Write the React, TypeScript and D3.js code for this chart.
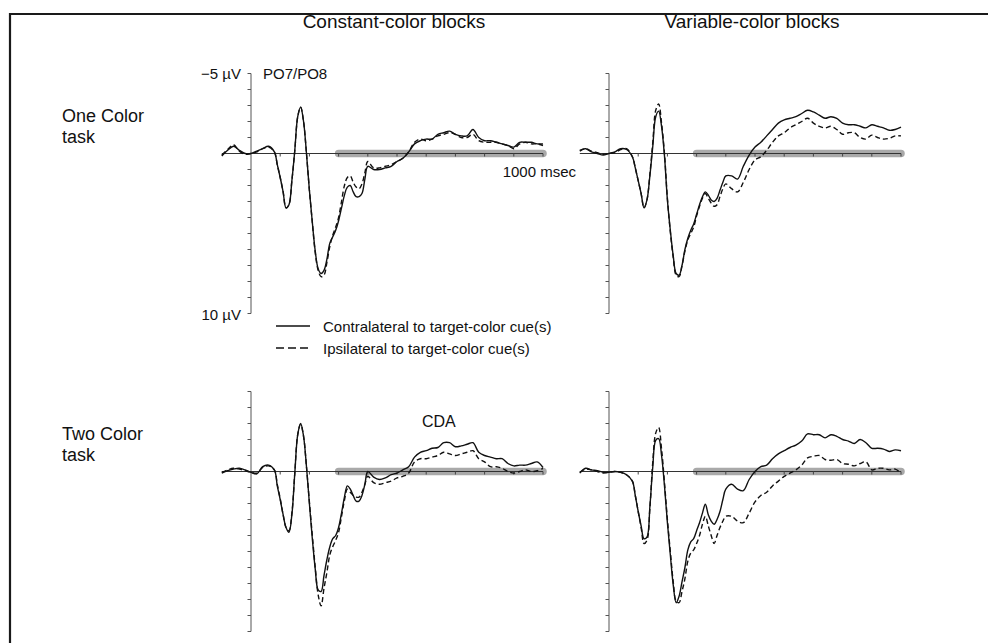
import React from 'react';
import * as d3 from 'd3';

// time points (ms)
const times = [-100,-80,-60,-40,-20,0,20,40,60,80,
  90,100,110,120,130,140,150,160,170,180,190,200,210,220,230,240,250,260,270,280,290,300,310,320,330,340,350,360,370,380,390,400,
  420,440,460,480,500,520,540,560,580,600,620,640,660,680,700,720,740,760,780,800,820,840,860,880,900,920,940,960,980,1000];

// µV (negative up)
const constOneContra = [0.15,-0.2,-0.45,-0.2,0.0,0.0,-0.15,-0.3,-0.45,-0.1,
  0.7,1.5,2.4,3.4,3.2,1.7,-0.2,-2.3,-2.9,-2.0,0.0,2.3,4.3,6.1,7.2,7.5,7.3,6.6,5.6,5.2,4.8,4.2,3.4,2.6,2.1,2.0,2.4,2.7,2.7,2.5,1.6,0.8,
  1.0,1.0,0.9,0.8,0.5,0.3,-0.1,-0.6,-0.8,-0.9,-0.9,-1.2,-1.3,-1.4,-1.2,-1.1,-1.1,-1.5,-1.0,-0.8,-0.8,-0.7,-0.6,-0.5,-0.4,-0.7,-0.7,-0.7,-0.6,-0.6];
const constOneIpsi = [0.1,-0.25,-0.55,-0.15,0.05,0.0,-0.1,-0.3,-0.4,-0.1,
  0.7,1.5,2.4,3.4,3.2,1.7,-0.2,-2.3,-2.9,-2.0,0.0,2.3,4.3,6.2,7.3,7.7,7.6,6.8,5.8,5.1,4.6,4.0,3.0,2.0,1.5,1.4,1.8,2.1,2.2,1.9,1.2,0.5,
  0.9,0.9,0.8,0.7,0.5,0.3,-0.1,-0.7,-0.9,-0.8,-0.9,-1.1,-1.2,-1.3,-1.2,-1.0,-1.0,-1.2,-0.8,-0.7,-0.7,-0.7,-0.6,-0.5,-0.3,-0.6,-0.7,-0.6,-0.6,-0.5];
const varOneContra = [-0.2,-0.3,-0.1,0.0,0.1,0.0,-0.1,-0.3,-0.25,0.2,
  0.9,1.7,2.5,3.4,2.9,1.4,-0.45,-2.3,-2.65,-1.7,0.15,2.9,4.8,6.4,7.5,7.6,7.0,6.0,5.3,4.8,4.4,3.8,3.2,2.7,2.4,2.6,2.9,3.0,2.8,2.3,1.8,1.4,
  1.4,1.6,0.8,0.1,-0.4,-0.7,-1.1,-1.5,-1.9,-2.1,-2.2,-2.3,-2.5,-2.7,-2.6,-2.4,-2.2,-2.3,-2.2,-1.9,-1.8,-1.8,-1.7,-1.6,-1.8,-1.7,-1.6,-1.45,-1.5,-1.65];
const varOneIpsi = [-0.15,-0.3,-0.15,-0.05,0.05,0.0,-0.05,-0.25,-0.3,0.2,
  0.9,1.7,2.5,3.4,2.9,1.3,-0.7,-2.7,-3.1,-1.9,0.0,2.8,4.9,6.5,7.6,7.7,7.0,6.1,5.4,5.0,4.6,3.9,3.3,2.8,2.5,2.8,3.1,3.3,3.2,2.7,2.2,1.9,
  2.2,2.4,1.8,1.0,0.4,0.2,-0.2,-0.7,-1.1,-1.3,-1.6,-1.8,-2.0,-2.2,-1.9,-1.7,-1.6,-1.7,-1.5,-1.2,-1.3,-1.3,-1.0,-0.9,-1.15,-1.0,-0.9,-0.95,-1.1,-1.1];
const constTwoContra = [0.1,-0.05,-0.15,-0.2,-0.1,0.05,0.15,-0.3,-0.4,-0.1,
  0.9,1.75,2.7,3.5,3.8,2.7,0.1,-2.3,-3.0,-2.2,-0.3,2.0,4.2,6.1,7.4,7.5,6.5,5.5,4.7,4.2,4.0,3.5,2.6,1.6,0.9,1.1,1.5,1.85,1.85,1.5,0.8,0.0,
  0.35,0.5,0.4,0.2,0.1,-0.1,-0.3,-0.9,-1.2,-1.3,-1.45,-1.5,-1.8,-1.8,-1.55,-1.6,-1.7,-1.8,-1.2,-1.0,-0.9,-0.8,-0.8,-0.5,-0.35,-0.4,-0.4,-0.5,-0.6,-0.25];
const constTwoIpsi = [0.05,-0.1,-0.2,-0.15,-0.05,0.05,0.1,-0.25,-0.35,-0.1,
  0.8,1.7,2.7,3.5,3.7,2.6,0.1,-2.3,-2.95,-2.2,-0.3,1.9,4.0,6.0,7.7,8.4,7.3,6.3,5.2,4.7,4.3,3.8,2.8,1.8,1.1,1.3,1.5,1.6,1.6,1.3,0.8,0.3,
  0.7,0.8,0.7,0.6,0.4,0.3,0.1,-0.6,-0.8,-0.8,-0.9,-1.0,-1.2,-1.1,-1.0,-1.1,-1.2,-1.3,-0.8,-0.6,-0.3,-0.3,-0.2,0.0,0.1,0.0,-0.1,0.0,-0.05,-0.2];
const varTwoContra = [0.1,-0.2,-0.1,-0.05,0.05,0.05,0.0,0.05,0.2,0.6,
  1.5,2.5,3.4,4.2,4.1,2.2,-0.3,-1.95,-2.05,-1.0,0.9,3.2,5.2,7.1,8.2,7.8,6.9,6.0,4.9,4.4,4.2,3.7,3.2,2.6,2.05,2.7,3.1,3.3,3.0,2.5,1.75,1.1,
  0.8,1.1,1.2,0.5,0.0,-0.3,-0.4,-0.8,-1.1,-1.3,-1.5,-1.65,-1.9,-2.35,-2.3,-2.3,-2.1,-2.3,-2.2,-2.0,-1.9,-1.75,-2.0,-1.8,-1.45,-1.45,-1.4,-1.25,-1.35,-1.3];
const varTwoIpsi = [0.05,-0.15,-0.1,0.0,0.1,0.05,0.0,0.05,0.2,0.6,
  1.5,2.5,3.5,4.5,4.3,2.3,-0.6,-2.4,-2.75,-1.4,0.7,3.0,5.0,6.9,8.1,8.2,7.5,6.7,5.6,5.1,4.9,4.5,4.0,3.3,2.8,3.4,4.0,4.5,4.0,3.5,3.1,2.8,
  2.8,3.1,3.2,2.6,1.9,1.5,1.3,0.9,0.6,0.3,0.1,-0.1,-0.4,-0.85,-0.95,-1.0,-0.75,-0.7,-0.75,-0.5,-0.45,-0.35,-0.5,-0.6,-0.1,-0.2,-0.2,-0.1,-0.15,0.1];

const columnTitles = ['Constant-color blocks', 'Variable-color blocks'];
const rowLabels = [['One Color', 'task'], ['Two Color', 'task']];
const legendLabels = ['Contralateral to target-color cue(s)', 'Ipsilateral to target-color cue(s)'];
const yDomain = [-5, 10];
const xTicks = [100, 200, 300, 400, 500, 600, 700, 800, 900, 1000];
const cdaWindow = [300, 1000];

const FONT = '"Liberation Sans", Arial, Helvetica, sans-serif';
const PANEL_X = [251, 609];
const PANEL_TOP = [73.5, 391.5];
const PANEL_W = 292; // px per 1000 ms
const PANEL_H = 240;

type PanelProps = { x0: number; top: number; contra: number[]; ipsi: number[] };

function Panel({ x0, top, contra, ipsi }: PanelProps) {
  const x = d3.scaleLinear().domain([0, 1000]).range([x0, x0 + PANEL_W]);
  const y = d3.scaleLinear().domain(yDomain).range([top, top + PANEL_H]);
  const line = d3
    .line<number>()
    .x((_, i) => x(times[i]))
    .y((d) => y(d))
    .curve(d3.curveCatmullRom.alpha(0.5));
  const yTicks = d3.range(yDomain[0], yDomain[1] + 1);
  const y0 = y(0);
  return (
    <g>
      <line x1={x0} x2={x0} y1={y(yDomain[0])} y2={y(yDomain[1])} stroke="#555" strokeWidth={1} />
      {yTicks.map((t) => (
        <line key={t} x1={x0 - 3.5} x2={x0} y1={y(t)} y2={y(t)} stroke="#555" strokeWidth={1} />
      ))}
      <line x1={x(cdaWindow[0])} x2={x(cdaWindow[1])} y1={y0} y2={y0} stroke="#a9a9a9" strokeWidth={7.5} strokeLinecap="round" />
      <line x1={x(times[0])} x2={x(1000)} y1={y0} y2={y0} stroke="#333" strokeWidth={1} />
      {xTicks.map((t) => (
        <line key={t} x1={x(t)} x2={x(t)} y1={y0} y2={y0 + 3} stroke="#444" strokeWidth={1} />
      ))}
      <path d={line(ipsi) || ''} fill="none" stroke="#111" strokeWidth={1.4} strokeDasharray="5,3" />
      <path d={line(contra) || ''} fill="none" stroke="#111" strokeWidth={1.4} />
    </g>
  );
}

export default function App() {
  const series = [
    [constOneContra, constOneIpsi, varOneContra, varOneIpsi],
    [constTwoContra, constTwoIpsi, varTwoContra, varTwoIpsi],
  ];
  const y0 = d3.scaleLinear().domain(yDomain).range([PANEL_TOP[0], PANEL_TOP[0] + PANEL_H]);
  const xL = d3.scaleLinear().domain([0, 1000]).range([PANEL_X[0], PANEL_X[0] + PANEL_W]);
  return (
    <svg
      width={988}
      height={643}
      style={{ position: 'absolute', left: 0, top: 0, background: '#fff' }}
      fontFamily={FONT}
    >
      <rect x={0} y={0} width={988} height={643} fill="#fff" />
      <path d="M10,650 L10,14 L995,14" fill="none" stroke="#1a1a1a" strokeWidth={2.2} />
      {columnTitles.map((t, i) => (
        <text key={t} x={PANEL_X[i] + 143} y={28} fontSize={19} textAnchor="middle" fill="#111">
          {t}
        </text>
      ))}
      {rowLabels.map((lines, r) => (
        <text key={r} x={62} y={PANEL_TOP[r] + 48} fontSize={18} fill="#111">
          {lines.map((l, k) => (
            <tspan key={k} x={62} dy={k === 0 ? 0 : 21}>
              {l}
            </tspan>
          ))}
        </text>
      ))}
      {[0, 1].map((r) =>
        [0, 1].map((c) => (
          <Panel
            key={`${r}-${c}`}
            x0={PANEL_X[c]}
            top={PANEL_TOP[r]}
            contra={series[r][c * 2]}
            ipsi={series[r][c * 2 + 1]}
          />
        ))
      )}
      <text x={PANEL_X[0] - 10} y={y0(-5) + 5} fontSize={15} textAnchor="end" fill="#111">
        −5 µV
      </text>
      <text x={PANEL_X[0] - 10} y={y0(10) + 6} fontSize={15} textAnchor="end" fill="#111">
        10 µV
      </text>
      <text x={PANEL_X[0] + 12} y={y0(-5) + 5} fontSize={15} fill="#111">
        PO7/PO8
      </text>
      <text x={xL(1000) + 33} y={y0(0) + 23} fontSize={15} textAnchor="end" fill="#111">
        1000 msec
      </text>
      {legendLabels.map((l, i) => (
        <g key={l}>
          <line
            x1={276}
            x2={310}
            y1={326 + i * 22}
            y2={326 + i * 22}
            stroke="#111"
            strokeWidth={1.3}
            strokeDasharray={i === 1 ? '8,4' : undefined}
          />
          <text x={323} y={331.5 + i * 22} fontSize={15} fill="#111">
            {l}
          </text>
        </g>
      ))}
      <text x={422} y={427} fontSize={16} fill="#111">
        CDA
      </text>
    </svg>
  );
}
